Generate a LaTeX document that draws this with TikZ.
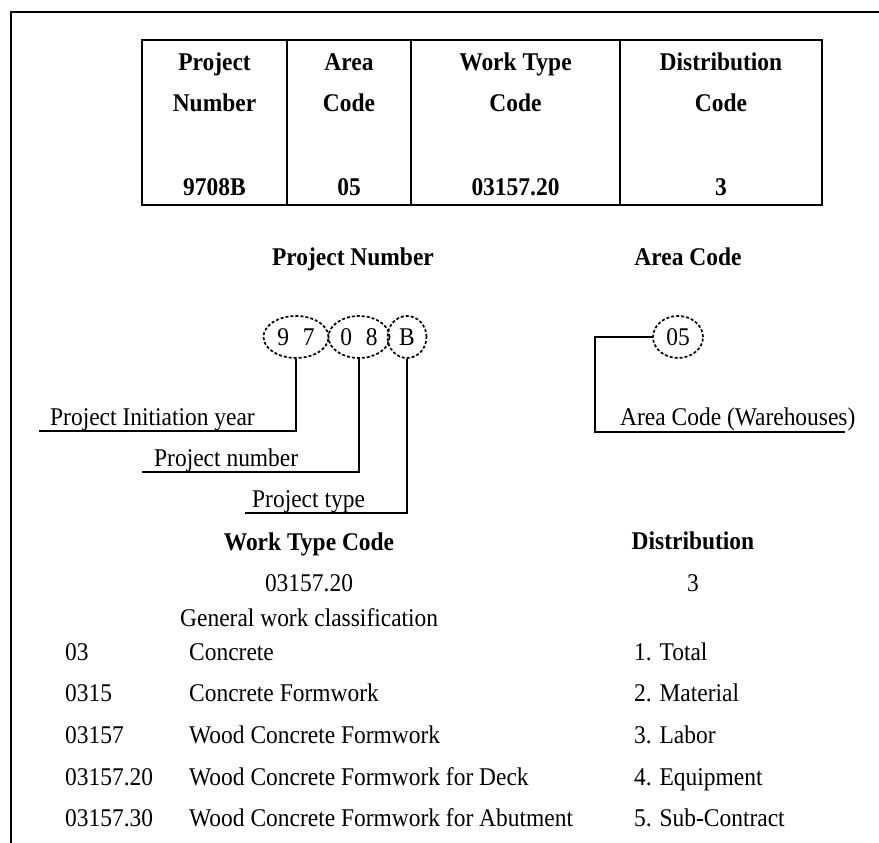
\documentclass[tikz,border=0pt]{standalone}
\usepackage{fontspec}
\setmainfont[FakeStretch=0.92]{Liberation Serif}
\usetikzlibrary{shapes.geometric}

\begin{document}
\begin{tikzpicture}[x=1pt,y=-1pt,
  font=\fontsize{25.5}{30}\selectfont,
  line/.style={line width=1.8pt},
  txt/.style={anchor=base west, inner sep=0pt},
  ctxt/.style={anchor=base, inner sep=0pt},
  hd/.style={anchor=base, inner sep=0pt, font=\fontsize{25.5}{30}\selectfont\bfseries},
  oval/.style={ellipse, draw, line width=1.7pt, dash pattern=on 3pt off 2pt,
               inner sep=0pt, minimum height=42pt},
]
\useasboundingbox (0,0) rectangle (879,843);

% frame (top and left edges)
\draw[line] (11,843) -- (11,12) -- (879,12);

% code table
\draw[line] (142,40) rectangle (822,205);
\foreach \x in {287,411,620} \draw[line] (\x,40) -- (\x,205);
\node[hd] (t1a) at (214.5,71) {Project};
\node[hd] (t1b) at (214.5,112) {Number};
\node[hd] (t1c) at (214.5,195) {9708B};
\node[hd] (t2a) at (349,71) {Area};
\node[hd] (t2b) at (349,112) {Code};
\node[hd] (t2c) at (349,195) {05};
\node[hd] (t3a) at (515.5,71) {Work Type};
\node[hd] (t3b) at (515.5,112) {Code};
\node[hd] (t3c) at (515.5,195) {03157.20};
\node[hd] (t4a) at (721,71) {Distribution};
\node[hd] (t4b) at (721,112) {Code};
\node[hd] (t4c) at (721,195) {3};

% project number breakdown
\node[hd] (hpn) at (353,265) {Project Number};
\node[oval, minimum width=65pt] (e97) at (296,337) {9\hspace{0.55em}7};
\node[oval, minimum width=61pt] (e08) at (359,337) {0\hspace{0.55em}8};
\node[oval, minimum width=39pt] (eB) at (407,337) {B};

\node[txt] (lyear) at (50,425) {Project Initiation year};
\node[txt] (lnum) at (154,466) {Project number};
\node[txt] (ltype) at (252,507) {Project type};
\coordinate (u1) at (39,431);
\coordinate (u2) at (142,472);
\coordinate (u3) at (245,513);
\draw[line] (e97.south) |- (u1);
\draw[line] (e08.south) |- (u2);
\draw[line] (eB.south) |- (u3);

% area code breakdown
\node[hd] (hac) at (688,265) {Area Code};
\node[oval, minimum width=50pt] (e05) at (678,337) {05};
\node[txt] (larea) at (620,425) {Area Code (Warehouses)};
\coordinate (c5) at (595,432);
\coordinate (u5) at (845,432);
\draw[line] (e05.west) -| (c5) -- (u5);

% work type code
\node[hd] (hwt) at (309,550) {Work Type Code};
\node[ctxt] (vwt) at (309,591) {03157.20};
\node[txt] (gwc) at (180,626) {General work classification};
\node[txt] (c1) at (65,660) {03};
\node[txt] (d1) at (189,660) {Concrete};
\node[txt] (c2) at (65,701) {0315};
\node[txt] (d2) at (189,701) {Concrete Formwork};
\node[txt] (c3) at (65,743) {03157};
\node[txt] (d3) at (189,743) {Wood Concrete Formwork};
\node[txt] (c4) at (65,785) {03157.20};
\node[txt] (d4) at (189,785) {Wood Concrete Formwork for Deck};
\node[txt] (c5t) at (65,826) {03157.30};
\node[txt] (d5) at (189,826) {Wood Concrete Formwork for Abutment};

% distribution
\node[hd] (hds) at (693,549) {Distribution};
\node[ctxt] (vds) at (693,591) {3};
\node[txt] (s1) at (634,660) {1. Total};
\node[txt] (s2) at (634,701) {2. Material};
\node[txt] (s3) at (634,743) {3. Labor};
\node[txt] (s4) at (634,785) {4. Equipment};
\node[txt] (s5) at (634,826) {5. Sub-Contract};
\end{tikzpicture}
\end{document}
